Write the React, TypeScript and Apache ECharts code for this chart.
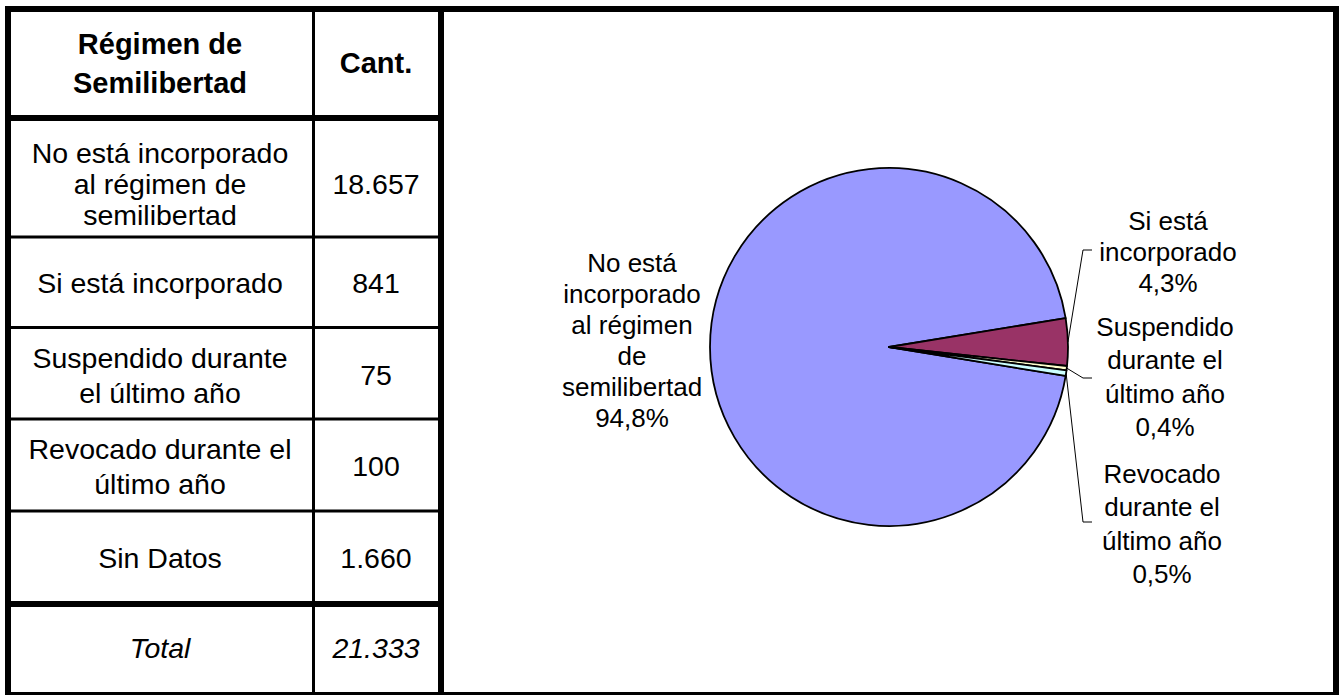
import React, { useEffect, useRef } from 'react';
import * as echarts from 'echarts';

// ---------- data ----------
const headerLabels = ['Régimen de\nSemilibertad', 'Cant.'];
const categories = [
  'No está incorporado al régimen de semilibertad',
  'Si está incorporado',
  'Suspendido durante el último año',
  'Revocado durante el último año',
  'Sin Datos',
];
const tableLabels = [
  'No está incorporado\nal régimen de\nsemilibertad',
  'Si está incorporado',
  'Suspendido durante\nel último año',
  'Revocado durante el\núltimo año',
  'Sin Datos',
];
const counts = [18657, 841, 75, 100, 1660];
const totalLabel = 'Total';
// pie uses the first four categories (Sin Datos excluded)
const pieCategoryCount = 4;
const pieLabels = [
  'No está\nincorporado\nal régimen\nde\nsemilibertad',
  'Si está\nincorporado',
  'Suspendido\ndurante el\núltimo año',
  'Revocado\ndurante el\núltimo año',
];
const pieColors = ['#9999FF', '#993366', '#FFFFCC', '#CCFFFF'];

// ---------- layout ----------
const W = 1342;
const H = 695;
const FONT = '"Liberation Sans", Arial, Helvetica, sans-serif';
const col1X = 160;
const col2X = 376;
const rowLines = [237, 327.5, 419, 511];
const rowCenters = [184, 283, 375, 466, 558];
const rowLineHeights = [31, 31, 35, 35, 31];
const totalCenter = 648;
const pieLabelLineHeights = [31, 31, 33.5, 33.5];
const labelPos: any[] = [
  { x: 632, y: 340 },
  { x: 1168, y: 252, hook: [1083, 250], end: 1092 },
  { x: 1165, y: 377, hook: [1083, 378], end: 1092 },
  { x: 1162, y: 524, hook: [1083, 522], end: 1092 },
];

function fmt(n: number): string {
  return String(n).replace(/\B(?=(\d{3})+(?!\d))/g, '.');
}

function hLine(x1: number, x2: number, y: number, w: number) {
  return { type: 'line', shape: { x1, y1: y, x2, y2: y }, style: { stroke: '#000', lineWidth: w }, silent: true };
}
function vLine(x: number, y1: number, y2: number, w: number) {
  return { type: 'line', shape: { x1: x, y1, x2: x, y2 }, style: { stroke: '#000', lineWidth: w }, silent: true };
}
function txt(text: string, x: number, y: number, size: number, opts: any = {}) {
  return {
    type: 'text',
    x,
    y,
    silent: true,
    style: {
      text,
      fill: '#000',
      fontSize: size,
      fontFamily: FONT,
      fontWeight: opts.bold ? 'bold' : 'normal',
      fontStyle: opts.italic ? 'italic' : 'normal',
      align: 'center',
      verticalAlign: 'middle',
      lineHeight: opts.lineHeight || Math.round(size * 1.1),
    },
  };
}

export default function App() {
  const ref = useRef<HTMLDivElement>(null);
  useEffect(() => {
    document.body.style.margin = '0';
    if (!ref.current) return;
    const chart = echarts.init(ref.current, null, { renderer: 'svg' });

    const total = counts.reduce((a, b) => a + b, 0);
    const graphics: any[] = [];
    // borders
    graphics.push(hLine(5, 1339, 9, 6));
    graphics.push(hLine(5, 1339, 695, 6));
    graphics.push(vLine(8, 6, 698, 6));
    graphics.push(vLine(1336, 6, 698, 6));
    graphics.push(vLine(441, 6, 698, 6));
    graphics.push(vLine(313.5, 12, 692, 3));
    graphics.push(hLine(11, 438, 118, 6));
    rowLines.forEach((y) => graphics.push(hLine(11, 438, y, 3)));
    graphics.push(hLine(11, 438, 604, 6));
    // header
    graphics.push(txt(headerLabels[0], col1X, 63, 29, { bold: true, lineHeight: 39 }));
    graphics.push(txt(headerLabels[1], col2X, 63, 29, { bold: true }));
    // rows
    tableLabels.forEach((t, i) => {
      graphics.push(txt(t, col1X, rowCenters[i], 28.5, { lineHeight: rowLineHeights[i] }));
      graphics.push(txt(fmt(counts[i]), col2X, rowCenters[i], 28.5));
    });
    graphics.push(txt(totalLabel, col1X, totalCenter, 28.5, { italic: true }));
    graphics.push(txt(fmt(total), col2X, totalCenter, 28.5, { italic: true }));

    const pieData = categories.slice(0, pieCategoryCount).map((name, i) => ({
      name,
      value: counts[i],
      itemStyle: { color: pieColors[i] },
      label: { lineHeight: pieLabelLineHeights[i] },
      labelLine: { show: i !== 0 },
    }));

    chart.setOption({
      animation: false,
      backgroundColor: '#fff',
      graphic: graphics,
      series: [
        {
          type: 'pie',
          center: [889, 347],
          radius: 179,
          startAngle: -9.3,
          clockwise: true,
          avoidLabelOverlap: false,
          data: pieData,
          itemStyle: { borderColor: '#000', borderWidth: 1.8 },
          label: {
            show: true,
            position: 'outside',
            color: '#000',
            fontSize: 26,
            fontFamily: FONT,
            lineHeight: 31,
            align: 'center',
            formatter: (p: any) =>
              pieLabels[p.dataIndex] + '\n' + p.percent.toFixed(1).replace('.', ',') + '%',
          },
          labelLine: { show: true, length: 10, length2: 10, lineStyle: { color: '#000', width: 1 } },
          labelLayout: (params: any) => {
            const p = labelPos[params.dataIndex];
            const res: any = { x: p.x, y: p.y, align: 'center', verticalAlign: 'middle' };
            if (p.hook && params.labelLinePoints) {
              res.labelLinePoints = [params.labelLinePoints[0], p.hook, [p.end, p.hook[1]]];
            }
            return res;
          },
          emphasis: { disabled: true },
        },
      ],
    });
    return () => chart.dispose();
  }, []);
  return <div ref={ref} style={{ width: W, height: H, position: 'absolute', left: 0, top: 0 }} />;
}
